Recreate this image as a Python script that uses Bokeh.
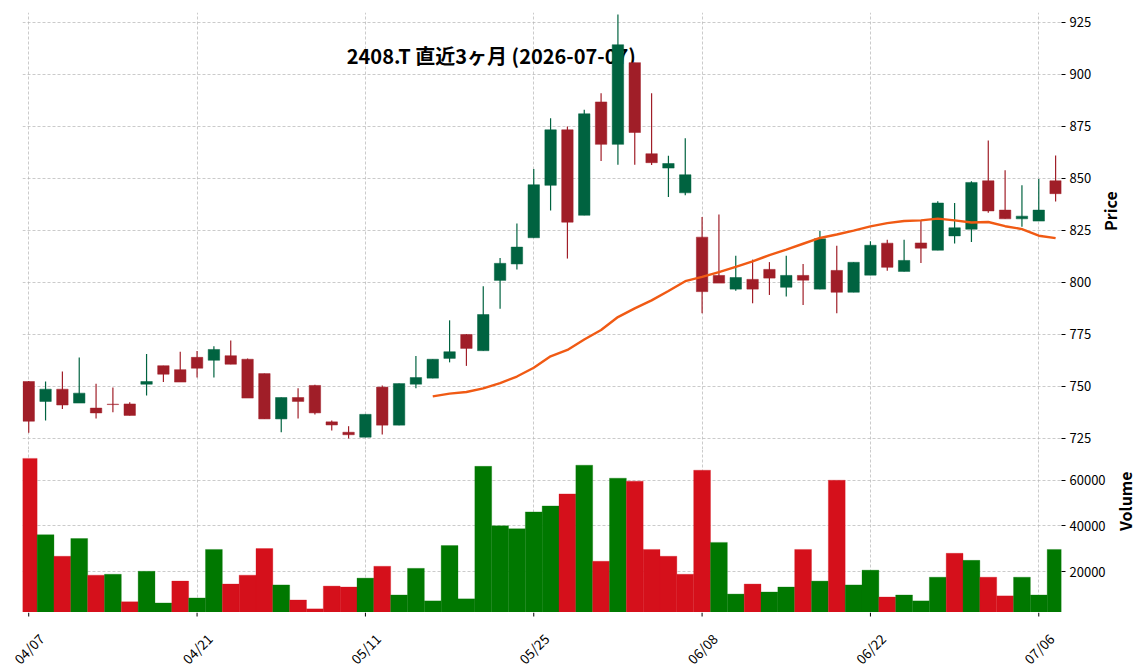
import math
import pandas as pd
from bokeh.plotting import figure
from bokeh.layouts import column
from bokeh.models import Range1d, FixedTicker, ColumnDataSource
from bokeh.core.properties import value
from bokeh.embed import file_html
from bokeh.resources import INLINE

# ---------------- data ----------------
dates = ["04/07", "04/08", "04/09", "04/10", "04/13", "04/14", "04/15", "04/16", "04/17", "04/20",
         "04/21", "04/22", "04/23", "04/24", "04/27", "04/28", "04/30", "05/01", "05/07", "05/08",
         "05/11", "05/12", "05/13", "05/14", "05/15", "05/18", "05/19", "05/20", "05/21", "05/22",
         "05/25", "05/26", "05/27", "05/28", "05/29", "06/01", "06/02", "06/03", "06/04", "06/05",
         "06/08", "06/09", "06/10", "06/11", "06/12", "06/15", "06/16", "06/17", "06/18", "06/19",
         "06/22", "06/23", "06/24", "06/25", "06/26", "06/29", "06/30", "07/01", "07/02", "07/03",
         "07/06", "07/07"]

opens = [752.4, 742.8, 748.7, 742.0, 739.6, 741.5, 741.6, 751.1, 760.0, 758.1,
         764.0, 762.6, 764.8, 763.1, 756.2, 734.4, 744.7, 750.5, 733.0, 728.0,
         725.6, 749.7, 731.4, 751.1, 754.0, 763.5, 775.0, 767.2, 801.0, 808.9,
         821.5, 846.7, 873.4, 832.3, 886.8, 866.4, 905.7, 861.9, 855.0, 843.1,
         821.8, 803.4, 796.8, 801.5, 806.3, 797.7, 803.4, 796.8, 805.8, 795.3,
         803.5, 818.9, 805.3, 819.0, 815.5, 822.4, 825.6, 848.9, 834.8, 830.6,
         829.5, 848.9]
highs = [752.6, 752.4, 757.2, 763.9, 751.3, 749.5, 742.4, 765.6, 760.0, 766.7,
         767.0, 769.4, 772.1, 763.5, 756.2, 744.7, 749.2, 750.8, 733.6, 730.9,
         736.6, 750.5, 751.4, 764.6, 763.1, 781.8, 775.2, 798.2, 811.8, 828.4,
         854.6, 879.0, 875.0, 883.0, 891.0, 928.8, 905.7, 891.0, 860.9, 869.4,
         831.5, 832.7, 812.9, 811.0, 809.8, 812.9, 808.9, 824.7, 817.7, 809.7,
         819.8, 820.6, 820.6, 829.5, 839.0, 838.2, 848.7, 868.3, 854.0, 846.8,
         849.7, 861.0]
lows = [727.7, 733.6, 739.2, 742.0, 734.6, 737.6, 736.1, 745.7, 752.1, 752.1,
        754.3, 754.3, 760.7, 744.4, 734.4, 728.0, 734.6, 736.5, 728.8, 725.0,
        725.6, 726.9, 731.4, 749.2, 754.0, 761.6, 759.9, 767.2, 787.4, 806.2,
        821.5, 834.6, 811.5, 832.3, 858.4, 856.6, 856.6, 856.5, 841.1, 841.9,
        785.2, 799.7, 796.0, 790.0, 794.0, 793.2, 789.2, 796.8, 785.2, 795.3,
        803.5, 805.6, 805.3, 809.4, 815.5, 818.7, 819.5, 833.5, 830.6, 826.8,
        829.5, 838.9]
closes = [733.3, 748.7, 741.1, 746.8, 737.3, 741.3, 736.1, 752.4, 755.9, 752.1,
          758.8, 767.8, 760.7, 744.4, 734.4, 744.7, 742.8, 737.3, 731.5, 726.8,
          736.6, 731.4, 751.4, 754.3, 763.1, 766.7, 768.3, 784.6, 809.2, 817.0,
          847.0, 873.4, 829.0, 881.1, 866.4, 914.3, 872.1, 857.6, 857.2, 851.8,
          795.6, 799.7, 802.4, 796.8, 802.1, 803.4, 801.1, 821.0, 795.3, 809.7,
          817.9, 807.3, 810.6, 816.5, 838.2, 826.3, 848.1, 834.4, 830.6, 831.9,
          834.8, 842.7]
volumes = [69700, 36200, 26700, 34500, 18400, 18800, 6700, 20100, 6200, 15800,
           8400, 29700, 14500, 18400, 30100, 14100, 7500, 3600, 13600, 13200,
           17100, 22300, 9700, 21400, 7100, 31400, 8000, 66200, 40100, 38800,
           46200, 48800, 54100, 66700, 24500, 61000, 59700, 29700, 26700, 18800,
           64500, 32800, 10100, 14500, 11000, 13200, 29700, 15800, 60100, 14100,
           20600, 8800, 9700, 7100, 17500, 28000, 24900, 17500, 9300, 17500,
           9700, 29700]

tick_idx = [0, 10, 20, 30, 40, 50, 60]
tick_labels = [dates[i] for i in tick_idx]
price_ticks = [725, 750, 775, 800, 825, 850, 875, 900, 925]
volume_ticks = [20000, 40000, 60000]
title_text = "2408.T  直近3ヶ月  (2026-07-07)"
price_label = "Price"
volume_label = "Volume"
mav_window = 25

# ---------------- styles ----------------
UP = "#006340"
DOWN = "#a01e28"
VUP = "#007800"
VDOWN = "#d5101b"
MA_COLOR = "#f05a14"
GRID = "#b4b4b4"
FONT = "Noto Sans CJK JP"

n = len(closes)
xs = list(range(n))
up = [c >= o for o, c in zip(opens, closes)]
body_top = [max(o, c) for o, c in zip(opens, closes)]
body_bot = [min(o, c) for o, c in zip(opens, closes)]
ccol = [UP if u else DOWN for u in up]
vcol = [VUP if (closes[i] >= (closes[i - 1] if i > 0 else opens[i])) else VDOWN for i in range(n)]
ma = pd.Series(closes).rolling(mav_window).mean()

src = ColumnDataSource(dict(x=xs, top=body_top, bot=body_bot, hi=highs, lo=lows,
                            col=ccol, vol=volumes, vcol=vcol))

LEFT, FRAME_W, RIGHT = 22, 1039, 83
X0, X1 = -0.37, 61.35
xr = Range1d(X0, X1)
PY0, PY1 = 719.7, 929.8
VY0, VY1 = 2000, 73600


def no_align(f):
    if "frame_align" in f.properties():
        f.frame_align = False


def style_common(f, label):
    f.outline_line_color = None
    f.background_fill_color = "white"
    f.border_fill_color = "white"
    f.xgrid.ticker = FixedTicker(ticks=tick_idx)
    for g in (f.xgrid, f.ygrid):
        g.grid_line_color = GRID
        g.grid_line_dash = "3 2"
        g.grid_line_width = 0.7
    f.xaxis.visible = False
    ax = f.yaxis[0]
    ax.axis_line_color = None
    ax.major_tick_line_color = "black"
    ax.major_tick_out = 4
    ax.major_tick_in = 0
    ax.minor_tick_line_color = None
    ax.major_label_text_font = FONT
    ax.major_label_text_font_size = "13px"
    ax.major_label_text_color = "black"
    ax.major_label_standoff = 4
    ax.axis_label = label
    ax.axis_label_text_font = FONT
    ax.axis_label_text_font_style = "bold"
    ax.axis_label_text_font_size = "16px"
    ax.axis_label_text_color = "black"
    ax.axis_label_standoff = 16
    if "axis_label_orientation" in ax.properties():
        ax.axis_label_orientation = math.pi / 2


# ---------------- price panel ----------------
p = figure(frame_width=FRAME_W, frame_height=437, x_range=xr, y_range=Range1d(PY0, PY1),
           output_backend="svg", toolbar_location=None, y_axis_location="right",
           min_border_left=LEFT, min_border_top=12, min_border_bottom=0, min_border_right=RIGHT)
style_common(p, price_label)
p.yaxis.ticker = FixedTicker(ticks=price_ticks)

p.text(x=[27.75], y=[909.0], text=[title_text], text_font=value(FONT), text_font_style="bold",
       text_font_size="20px", text_align="center", text_baseline="middle", text_color="black")
p.segment(x0="x", y0="lo", x1="x", y1="hi", source=src, line_color="col", line_width=1.2)
p.vbar(x="x", top="top", bottom="bot", width=0.68, source=src, fill_color="col",
       line_color="col", line_width=0.5)
p.line(xs, list(ma), line_color=MA_COLOR, line_width=2.4)

# ---------------- volume panel ----------------
v = figure(frame_width=FRAME_W, frame_height=163, x_range=xr, y_range=Range1d(VY0, VY1),
           output_backend="svg", toolbar_location=None, y_axis_location="right",
           min_border_left=LEFT, min_border_top=0, min_border_right=RIGHT, min_border_bottom=0)
style_common(v, volume_label)
v.yaxis.ticker = FixedTicker(ticks=volume_ticks)
v.vbar(x="x", top="vol", bottom=0, width=1.0, source=src, fill_color="vcol",
       line_color="vcol", line_width=0.3)

# ---------------- date tick strip (full canvas width so rotated labels are not clipped) ----
scale = FRAME_W / (X1 - X0)
LAB_H = 58
lab = figure(frame_width=LEFT + FRAME_W + RIGHT, frame_height=LAB_H,
             x_range=Range1d(X0 - LEFT / scale, X1 + RIGHT / scale), y_range=Range1d(0, LAB_H),
             output_backend="svg", toolbar_location=None, x_axis_location=None,
             y_axis_location=None, min_border=0)
no_align(lab)
lab.outline_line_color = None
lab.grid.visible = False
lab.segment(x0=tick_idx, y0=[LAB_H] * len(tick_idx), x1=tick_idx, y1=[LAB_H - 4] * len(tick_idx),
            line_color="black", line_width=1)
lab.text(x=tick_idx, y=[LAB_H - 36] * len(tick_idx), text=tick_labels, angle=math.pi / 4,
         text_align="center", text_baseline="middle", text_font=value(FONT),
         text_font_size="13.5px", text_color="black")

layout = column(p, v, lab, spacing=0)
open("out.html", "w").write(file_html(layout, INLINE))
